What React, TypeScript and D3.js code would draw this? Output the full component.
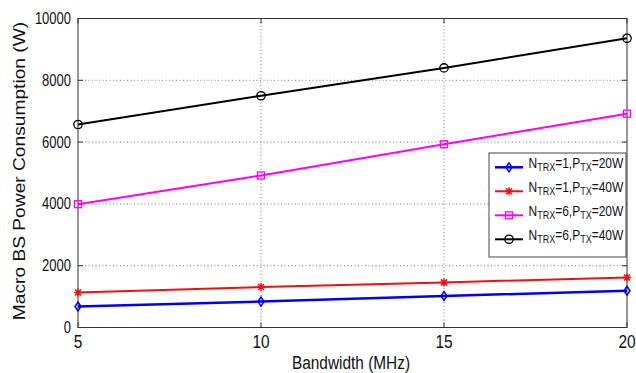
import React from "react";
import * as d3 from "d3";

const bandwidth = [5, 10, 15, 20];
const seriesNames = ["N1P20", "N1P40", "N6P20", "N6P40"];
const nTrx = ["1", "1", "6", "6"];
const pTx = ["20W", "40W", "20W", "40W"];
const valsN1P20 = [680, 840, 1020, 1190];
const valsN1P40 = [1130, 1310, 1460, 1620];
const valsN6P20 = [3990, 4920, 5930, 6920];
const valsN6P40 = [6570, 7500, 8400, 9360];
const xTicks = [5, 10, 15, 20];
const yTicks = [0, 2000, 4000, 6000, 8000, 10000];

const W = 636;
const H = 373;
const L = 78, R = 627, T = 18.5, B = 327.5;
const FONT = "'Liberation Sans', Arial, Helvetica, sans-serif";

const seriesVals = [valsN1P20, valsN1P40, valsN6P20, valsN6P40];
const colors = ["#0000f0", "#f01010", "#ff00ff", "#000000"];
const widths = [2.5, 2, 2, 2];
const markers = ["diamond", "asterisk", "square", "circle"];

function Marker({ type, x, y, color }: { type: string; x: number; y: number; color: string }) {
  if (type === "diamond") {
    return <path d={`M${x},${y - 4.5}L${x + 3},${y}L${x},${y + 4.5}L${x - 3},${y}Z`} fill="none" stroke={color} strokeWidth={1.5} />;
  }
  if (type === "square") {
    return <rect x={x - 3.5} y={y - 3.5} width={7} height={7} fill="none" stroke={color} strokeWidth={1.3} />;
  }
  if (type === "circle") {
    return <circle cx={x} cy={y} r={4.2} fill="none" stroke={color} strokeWidth={1.3} />;
  }
  // asterisk
  const r = 4;
  const d = r * 0.75;
  return (
    <path
      d={`M${x},${y - r}L${x},${y + r}M${x - d},${y - d}L${x + d},${y + d}M${x - d},${y + d}L${x + d},${y - d}M${x - r},${y}L${x + r},${y}`}
      stroke={color}
      strokeWidth={1.5}
      fill="none"
    />
  );
}

export default function App() {
  const x = d3.scaleLinear().domain([5, 20]).range([L, R]);
  const y = d3.scaleLinear().domain([0, 10000]).range([B, T]);
  const line = d3
    .line<number>()
    .x((_, i) => x(bandwidth[i]))
    .y((d) => y(d));

  const legX = 489, legY = 153, legW = R - 1 - legX, legH = 104;
  const rowY = (i: number) => 167.3 + i * 24;

  return (
    <svg width={W} height={H} style={{ position: "absolute", left: 0, top: 0, background: "#fff" }}>
      <rect x={0} y={0} width={W} height={H} fill="#fff" />
      {/* grid */}
      {xTicks
        .filter((t) => t !== 5 && t !== 20)
        .map((t) => (
          <line key={"gx" + t} x1={x(t)} x2={x(t)} y1={T} y2={B} stroke="#777" strokeWidth={1} strokeDasharray="1,2.5" />
        ))}
      {yTicks
        .filter((t) => t !== 0 && t !== 10000)
        .map((t) => (
          <line key={"gy" + t} x1={L} x2={R} y1={y(t)} y2={y(t)} stroke="#777" strokeWidth={1} strokeDasharray="1,2.5" />
        ))}
      {/* ticks */}
      {xTicks.map((t) => (
        <g key={"tx" + t}>
          <line x1={x(t)} x2={x(t)} y1={B} y2={B - 5} stroke="#333" />
          <line x1={x(t)} x2={x(t)} y1={T} y2={T + 5} stroke="#333" />
          <text
            transform={`translate(${x(t)},${B + 20.8}) scale(1,1.2)`}
            textAnchor="middle"
            fontFamily={FONT}
            fontSize={15.5}
            fill="#111"
          >
            {t}
          </text>
        </g>
      ))}
      {yTicks.map((t) => (
        <g key={"ty" + t}>
          <line x1={L} x2={L + 5} y1={y(t)} y2={y(t)} stroke="#333" />
          <line x1={R} x2={R - 5} y1={y(t)} y2={y(t)} stroke="#333" />
          <text
            transform={`translate(${L - 7},${y(t) + 5.5}) scale(1,1.2)`}
            textAnchor="end"
            fontFamily={FONT}
            fontSize={13}
            fill="#111"
          >
            {t}
          </text>
        </g>
      ))}
      {/* frame */}
      <rect x={L} y={T} width={R - L} height={B - T} fill="none" stroke="#333" strokeWidth={1} />
      {/* series */}
      {seriesVals.map((vals, si) => (
        <g key={seriesNames[si]}>
          <path d={line(vals) || ""} fill="none" stroke={colors[si]} strokeWidth={widths[si]} />
          {vals.map((v, i) => (
            <Marker key={i} type={markers[si]} x={x(bandwidth[i])} y={y(v)} color={colors[si]} />
          ))}
        </g>
      ))}
      {/* legend */}
      <rect x={legX} y={legY} width={legW} height={legH} fill="#fff" stroke="#444" strokeWidth={1} />
      {seriesNames.map((n, i) => (
        <g key={"leg" + n}>
          <line x1={495} x2={523} y1={rowY(i)} y2={rowY(i)} stroke={colors[i]} strokeWidth={widths[i]} />
          <Marker type={markers[i]} x={509} y={rowY(i)} color={colors[i]} />
          <text
            transform={`translate(528.5,${rowY(i) + 0.3}) scale(1,1.2)`}
            fontFamily={FONT}
            fontSize={12}
            fill="#111"
          >
            N
            <tspan fontSize={9} dy={3}>TRX</tspan>
            <tspan dy={-3}>{"=" + nTrx[i] + ",P"}</tspan>
            <tspan fontSize={9} dy={3}>TX</tspan>
            <tspan dy={-3}>{"=" + pTx[i]}</tspan>
          </text>
        </g>
      ))}
      {/* axis labels */}
      <text
        transform={`translate(351,369.3) scale(1,1.2)`}
        textAnchor="middle"
        fontFamily={FONT}
        fontSize={15.4}
        fill="#111"
      >
        Bandwidth (MHz)
      </text>
      <text
        transform={`translate(25,171) rotate(-90) scale(1.2,1)`}
        textAnchor="middle"
        fontFamily={FONT}
        fontSize={16}
        fill="#111"
      >
        Macro BS Power Consumption (W)
      </text>
    </svg>
  );
}
